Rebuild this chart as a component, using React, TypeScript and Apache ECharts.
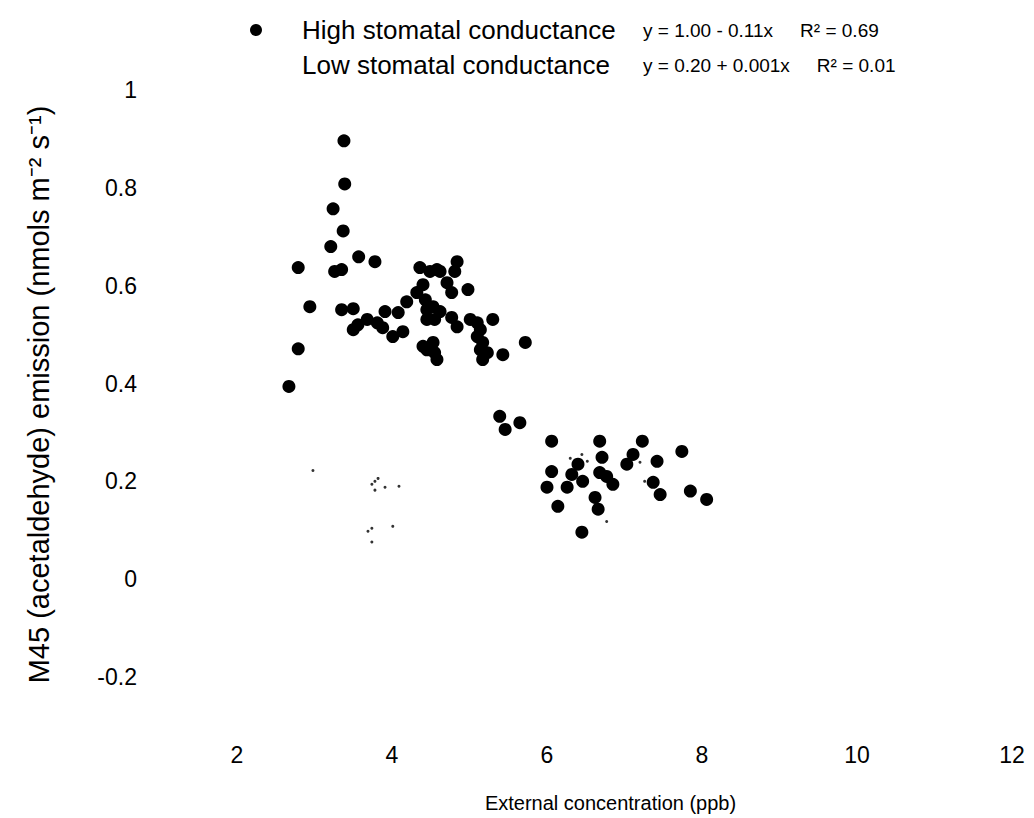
import React, { useEffect, useRef } from "react";
import * as echarts from "echarts";

const HIGH = "High stomatal conductance";
const LOW = "Low stomatal conductance";
const eqHigh = ["y = 1.00 - 0.11x", "R² = 0.69"];
const eqLow = ["y = 0.20 + 0.001x", "R² = 0.01"];

const xTicks = [2, 4, 6, 8, 10, 12];
const yTicks = [-0.2, 0, 0.2, 0.4, 0.6, 0.8, 1];

const highX = [
  3.38, 3.39, 3.24, 3.37, 3.21, 3.57, 3.78, 2.79, 3.26, 3.35, 2.94, 3.35, 3.5, 2.79, 2.67,
  3.5, 3.56, 3.68, 3.81, 3.88, 3.91, 4.01, 4.14, 4.08, 4.19, 4.32, 4.4, 4.36, 4.49, 4.58,
  4.62, 4.43, 4.45, 4.53, 4.62, 4.45, 4.55, 4.71, 4.77, 4.84, 4.81, 4.98, 4.77, 4.84, 5.01,
  5.1, 5.14, 5.3, 5.1, 5.17, 5.23, 5.14, 5.17, 5.43, 5.72, 4.4, 4.53, 4.55, 4.58, 4.45,
  5.39, 5.46, 5.65,
  6.06, 6.06, 6.0, 6.14, 6.26, 6.32, 6.4, 6.46, 6.45, 6.68, 6.71, 6.68, 6.77, 6.85, 6.62,
  6.66, 7.03, 7.11, 7.23, 7.42, 7.37, 7.46, 7.74, 7.85, 8.06,
];
const highY = [
  0.896, 0.808, 0.757, 0.712, 0.68, 0.659, 0.649, 0.637, 0.629, 0.633, 0.557, 0.551, 0.553, 0.471, 0.394,
  0.51, 0.52, 0.531, 0.524, 0.514, 0.547, 0.496, 0.506, 0.545, 0.567, 0.586, 0.602, 0.637, 0.629, 0.633,
  0.629, 0.571, 0.551, 0.557, 0.547, 0.531, 0.531, 0.606, 0.586, 0.649, 0.629, 0.592, 0.535, 0.516, 0.531,
  0.524, 0.51, 0.531, 0.496, 0.484, 0.463, 0.469, 0.449, 0.459, 0.484, 0.476, 0.484, 0.463, 0.449, 0.469,
  0.333, 0.306, 0.32,
  0.282, 0.22, 0.188, 0.149, 0.188, 0.214, 0.235, 0.2, 0.096, 0.282, 0.249, 0.218, 0.21, 0.194, 0.167,
  0.143, 0.235, 0.255, 0.282, 0.241, 0.198, 0.173, 0.261, 0.18, 0.163,
];

const lowX = [2.98, 3.74, 3.78, 3.82, 3.78, 3.91, 4.09, 3.69, 3.74, 4.01, 3.74, 6.3, 6.45, 6.52, 7.2, 7.26, 6.77];
const lowY = [0.222, 0.194, 0.2, 0.206, 0.182, 0.188, 0.19, 0.098, 0.104, 0.108, 0.076, 0.247, 0.255, 0.241, 0.239, 0.2, 0.118];

const FONT = "'Liberation Sans', Arial, sans-serif";

export default function App() {
  const ref = useRef<HTMLDivElement>(null);
  useEffect(() => {
    if (!ref.current) return;
    const chart = echarts.init(ref.current, null, { renderer: "svg" });
    const fmt = (v: number) => (Math.abs(v) < 1e-9 ? "0" : String(Math.round(v * 10) / 10));
    chart.setOption({
      animation: false,
      backgroundColor: "#ffffff",
      textStyle: { fontFamily: FONT, color: "#000" },
      legend: {
        orient: "vertical",
        left: 245,
        top: 12,
        itemWidth: 12,
        itemHeight: 12,
        itemGap: 9,
        icon: "circle",
        data: [{ name: HIGH }, { name: LOW, itemStyle: { opacity: 0 } }],
        formatter: (name: string) => {
          const eq = name === HIGH ? eqHigh : eqLow;
          return `{n|${name}}{e|${eq[0]}}{g|}{e|${eq[1]}}`;
        },
        textStyle: {
          fontFamily: FONT,
          color: "#000",
          rich: {
            n: { fontSize: 26, width: 341, padding: [0, 0, 0, 35], lineHeight: 27, fontFamily: FONT, color: "#000" },
            e: { fontSize: 19, fontFamily: FONT, color: "#000" },
            g: { width: 27 },
          },
        },
      },
      grid: { left: 237, right: 22, top: 90, bottom: 140 },
      xAxis: {
        type: "value",
        min: xTicks[0],
        max: xTicks[xTicks.length - 1],
        interval: 2,
        name: "External concentration (ppb)",
        nameLocation: "middle",
        nameGap: 116,
        nameTextStyle: { fontSize: 20, fontFamily: FONT, color: "#000", padding: [0, 28, 0, 0] },
        axisLine: { show: false, onZero: false },
        axisTick: { show: false },
        splitLine: { show: false },
        axisLabel: { fontSize: 23, margin: 66, color: "#000", fontFamily: FONT, showMaxLabel: true },
      },
      yAxis: {
        type: "value",
        min: yTicks[0],
        max: yTicks[yTicks.length - 1],
        interval: 0.2,
        name: "M45 (acetaldehyde) emission (nmols m⁻² s⁻¹)",
        nameLocation: "middle",
        nameGap: 184,
        nameTextStyle: { fontSize: 29, fontFamily: FONT, color: "#000", padding: [0, 22, 0, 0] },
        axisLine: { show: false, onZero: false },
        axisTick: { show: false },
        splitLine: { show: false },
        axisLabel: { fontSize: 23, margin: 100, color: "#000", fontFamily: FONT, formatter: fmt },
      },
      series: [
        {
          name: HIGH,
          type: "scatter",
          symbol: "circle",
          symbolSize: 13,
          itemStyle: { color: "#000", opacity: 1 },
          data: highX.map((x, i) => [x, highY[i]]),
        },
        {
          name: LOW,
          type: "scatter",
          symbol: "circle",
          symbolSize: 3,
          itemStyle: { color: "#333", opacity: 1 },
          data: lowX.map((x, i) => [x, lowY[i]]),
        },
      ],
    });
    return () => chart.dispose();
  }, []);
  return <div ref={ref} style={{ width: 1034, height: 818, position: "absolute", left: 0, top: 0 }} />;
}
